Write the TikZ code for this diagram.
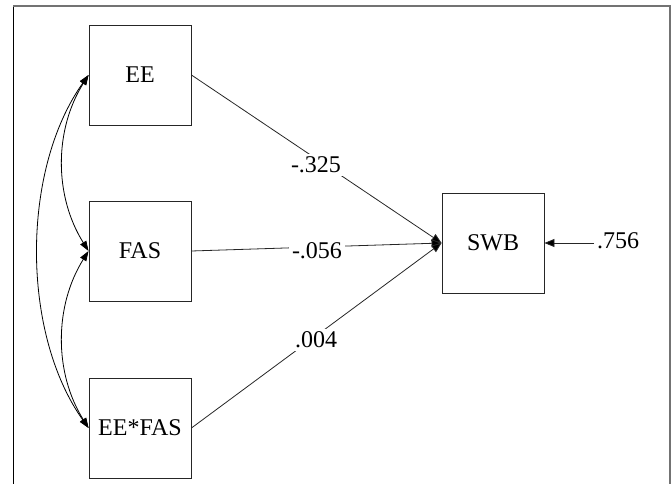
\documentclass[tikz,border=0pt]{standalone}
\usepackage{fontspec}
\setmainfont{Liberation Serif}
\usetikzlibrary{arrows.meta}
\begin{document}
\begin{tikzpicture}[x=1pt,y=-1pt,
  var/.style={draw=black!85, line width=0.9pt, minimum width=102pt, minimum height=100pt,
    inner sep=0pt, font=\fontsize{24}{26}\selectfont},
  coef/.style={fill=white, inner xsep=3pt, inner ysep=3pt, font=\fontsize{24}{26}\selectfont},
  path/.style={draw=black!85, line width=0.8pt, -{Triangle[length=10pt,width=8pt,fill=black]}},
  cov/.style={draw=black, line width=0.8pt, {Triangle[length=10pt,width=7pt]}-{Triangle[length=10pt,width=7pt]}}]
\useasboundingbox (0,0) rectangle (672,484);
% open frame
\draw[black, line width=1pt] (13,6) -- (13,484);
\draw[black!55, line width=1.5pt] (13,6) -- (670,6) -- (670,484);

% observed variables
\node[var] (ee)  at (140,75)  {EE};
\node[var] (fas) at (140,251) {FAS};
\node[var] (int) at (140,428) {EE*FAS};
\node[var] (swb) at (493,243) {SWB};

% residual
\node[font=\fontsize{24}{26}\selectfont, anchor=west, inner sep=0pt] (res) at (597,241) {.756};
\coordinate (rs) at (594,243);
\draw[path] (rs) -- (swb.east);

% regression paths
\draw[path] (ee.east) -- (swb.west);
\draw[path] (fas.east) -- (swb.west);
\draw[path] (int.east) -- (swb.west);
\node[coef] (c1) at (316,165) {-.325};
\node[coef] (c2) at (317,251) {-.056};
\node[coef] (c3) at (316,340) {.004};

% covariances
\draw[cov] (ee.west) .. controls (54,130) and (54,196) .. (fas.west);
\draw[cov] (fas.west) .. controls (54,306) and (54,373) .. (int.west);
\draw[cov] (ee.west) .. controls (21,170) and (21,333) .. (int.west);
\end{tikzpicture}
\end{document}
